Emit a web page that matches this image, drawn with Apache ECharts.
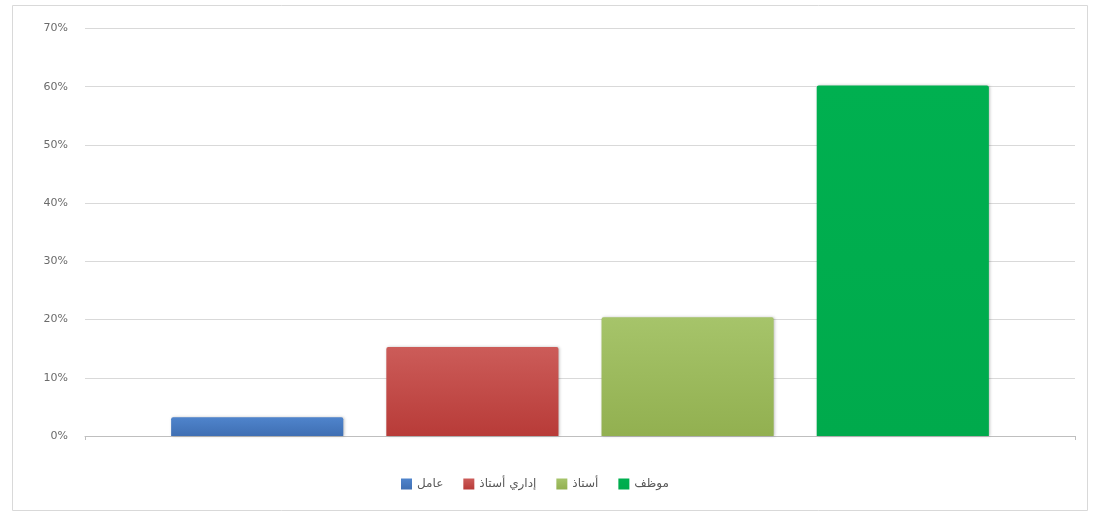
<!DOCTYPE html>
<html>
<head>
<meta charset="utf-8">
<script src="https://cdn.jsdelivr.net/npm/echarts@6/dist/echarts.min.js"></script>
<style>
html,body{margin:0;padding:0;background:#fff;}
#chart{width:1098px;height:515px;}
</style>
</head>
<body>
<div id="chart"></div>
<script>
// Data
var categories = [''];
var seriesNames = ['عامل', 'إداري أستاذ', 'أستاذ', 'موظف'];
var seriesValues = [3.2, 15.3, 20.4, 60.2];
var yTicks = { min: 0, max: 70, interval: 10 };

var colors = [
  ['#4f84cc', '#3f6fb3'],
  ['#cc5c59', '#b83b38'],
  ['#a6c46a', '#92b050'],
  ['#00b050', '#00aa4c']
];

var chart = echarts.init(document.getElementById('chart'), null, {renderer: 'canvas'});

var series = seriesNames.map(function (name, i) {
  return {
    name: name,
    type: 'bar',
    data: [seriesValues[i]],
    barGap: '25%',
    barCategoryGap: '17.4%',
    itemStyle: {
      color: new echarts.graphic.LinearGradient(0, 0, 0, 1, [
        {offset: 0, color: colors[i][0]},
        {offset: 1, color: colors[i][1]}
      ]),
      borderRadius: [2, 2, 0, 0],
      shadowColor: 'rgba(0,0,0,0.25)',
      shadowBlur: 3,
      shadowOffsetX: 1,
      shadowOffsetY: 0
    },
    emphasis: {disabled: true}
  };
});

var legendColors = colors.map(function (c) { return c[1]; });

chart.setOption({
  animation: false,
  color: legendColors,
  graphic: [{
    type: 'rect',
    shape: {x: 12.5, y: 5.5, width: 1075, height: 505},
    style: {fill: 'none', stroke: '#d9d9d9', lineWidth: 1},
    silent: true,
    z: -1
  }],
  grid: {left: 85, right: 23, top: 28.5, bottom: 79, containLabel: false},
  legend: {
    bottom: 20,
    left: 396,
    itemWidth: 11,
    itemHeight: 11,
    itemGap: 20,
    icon: 'rect',
    textStyle: {fontFamily: 'DejaVu Sans', fontSize: 12, color: '#595959'},
    data: seriesNames
  },
  xAxis: {
    type: 'category',
    data: categories,
    axisLine: {show: true, lineStyle: {color: '#bfbfbf', width: 1}},
    axisTick: {show: true, length: 4, alignWithLabel: false, lineStyle: {color: '#bfbfbf'}},
    axisLabel: {show: false}
  },
  yAxis: {
    type: 'value',
    min: yTicks.min,
    max: yTicks.max,
    interval: yTicks.interval,
    axisLine: {show: false},
    axisTick: {show: false},
    axisLabel: {
      formatter: '{value}%',
      fontFamily: 'DejaVu Sans',
      fontSize: 11,
      color: '#6b6b6b',
      margin: 17
    },
    splitLine: {lineStyle: {color: '#d9d9d9', width: 1}}
  },
  series: series
});
</script>
</body>
</html>
